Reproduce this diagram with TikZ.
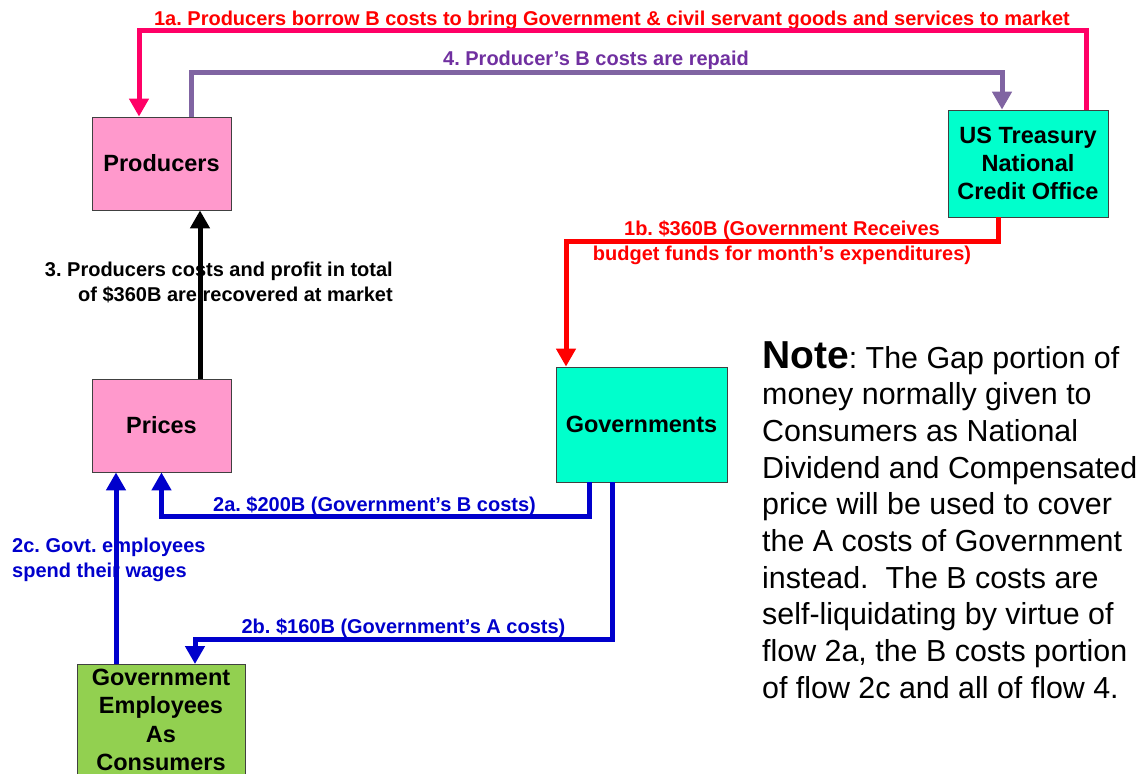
\documentclass[tikz,border=0pt]{standalone}
\usepackage{fontspec}
\setmainfont{Liberation Sans}
\usetikzlibrary{arrows.meta}
\frenchspacing

\definecolor{boxpink}{HTML}{FF99CC}
\definecolor{boxcyan}{HTML}{00FFCC}
\definecolor{boxgreen}{HTML}{92D050}
\definecolor{flowmagenta}{HTML}{FF0066}
\definecolor{flowpurple}{HTML}{8064A2}
\definecolor{labelpurple}{HTML}{7030A0}
\definecolor{flowred}{HTML}{FF0000}
\definecolor{flowblue}{HTML}{0000CC}

\begin{document}
\begin{tikzpicture}[x=1pt,y=-1pt,
  box/.style={draw=black!75, line width=0.8pt, inner sep=0pt, align=center,
    font=\fontsize{23.5}{28.3}\selectfont\bfseries},
  flow/.style={line width=5pt, line join=miter, -{Triangle[width=19pt,length=18pt]}},
  flowlabel/.style={inner sep=0pt, font=\fontsize{20}{24.5}\selectfont\bfseries},
  notetext/.style={inner sep=0pt, align=left, font=\fontsize{30.4}{36.7}\selectfont},
]
\useasboundingbox (0,0) rectangle (1141,774);
\begin{scope}
\clip (0,0) rectangle (1141,774);

% boxes
\node[box, fill=boxpink, minimum width=139pt, minimum height=93pt] (prod) at (161.5,163.5) {Producers};
\node[box, fill=boxpink, minimum width=139pt, minimum height=93pt] (prices) at (161.5,425.5) {Prices};
\node[box, fill=boxcyan, minimum width=171pt, minimum height=115pt] (gov) at (641.5,424.5) {Governments};
\node[box, fill=boxcyan, minimum width=160pt, minimum height=107pt] (tre) at (1028,163.5) {US Treasury\\National\\Credit Office};
\node[box, fill=boxgreen, minimum width=168pt, minimum height=140pt, anchor=north] (emp) at (161,664) {};
\node[inner sep=0pt, align=center, anchor=north, font=\fontsize{23.5}{28.5}\selectfont\bfseries] (emptext) at (161,668.5)
  {Government\\Employees\\As\\Consumers};

% flow labels (multi-line labels are placed by the baseline of their last line)
\node[flowlabel, text=flowred, anchor=base] (l1a) at (612,25)
  {1a. Producers borrow B costs to bring Government \& civil servant goods and services to market};
\node[flowlabel, text=labelpurple, anchor=base] (l4) at (596,65) {4. Producer’s B costs are repaid};
\node[flowlabel, text=black, align=right, anchor=base east] (l3) at (393,301)
  {3. Producers costs and profit in total\\of \$360B are recovered at market};
\node[flowlabel, text=flowred, align=center, anchor=base] (l1b) at (782,260)
  {1b. \$360B (Government Receives\\budget funds for month’s expenditures)};
\node[flowlabel, text=flowblue, anchor=base] (l2a) at (374.5,511) {2a. \$200B (Government’s B costs)};
\node[flowlabel, text=flowblue, anchor=base] (l2b) at (403.5,633) {2b. \$160B (Government’s A costs)};
\node[flowlabel, text=flowblue, align=left, anchor=base west] (l2c) at (12,577)
  {2c. Govt. employees\\spend their wages};

% note
\node[notetext, anchor=north west] (note) at (762,341)
  {{\fontsize{39}{36.7}\selectfont\bfseries Note}: The Gap portion of\\
   money normally given to\\
   Consumers as National\\
   Dividend and Compensated\\
   price will be used to cover\\
   the A costs of Government\\
   instead.\ \ The B costs are\\
   self-liquidating by virtue of\\
   flow 2a, the B costs portion\\
   of flow 2c and all of flow 4.};

% routing corners
\coordinate (c1aR) at (1086,30);
\coordinate (c1aL) at (139,30);
\coordinate (c4L) at (191.5,72);
\coordinate (c4R) at (1002,72);
\coordinate (c3) at (200,0);
\coordinate (c1bR) at (998,241);
\coordinate (c1bL) at (566,241);
\coordinate (c2aR) at (589.5,516);
\coordinate (c2aL) at (161.5,516);
\coordinate (c2bR) at (612,639);
\coordinate (c2bL) at (195,639);
\coordinate (c2c) at (116,0);

% flows
\draw[flow, flowmagenta] (tre.north -| c1aR) -- (c1aR) -- (c1aL) -- (prod.north -| c1aL);
\draw[flow, flowpurple] (prod.north -| c4L) -- (c4L) -- (c4R) -- (tre.north -| c4R);
\draw[flow, black] (prices.north -| c3) -- (prod.south -| c3);
\draw[flow, flowred] (tre.south -| c1bR) -- (c1bR) -- (c1bL) -- (gov.north -| c1bL);
\draw[flow, flowblue] (gov.south -| c2aR) -- (c2aR) -- (c2aL) -- (prices.south -| c2aL);
\draw[flow, flowblue] (gov.south -| c2bR) -- (c2bR) -- (c2bL) -- (emp.north -| c2bL);
\draw[flow, flowblue] (emp.north -| c2c) -- (prices.south -| c2c);
\end{scope}
\end{tikzpicture}
\end{document}
